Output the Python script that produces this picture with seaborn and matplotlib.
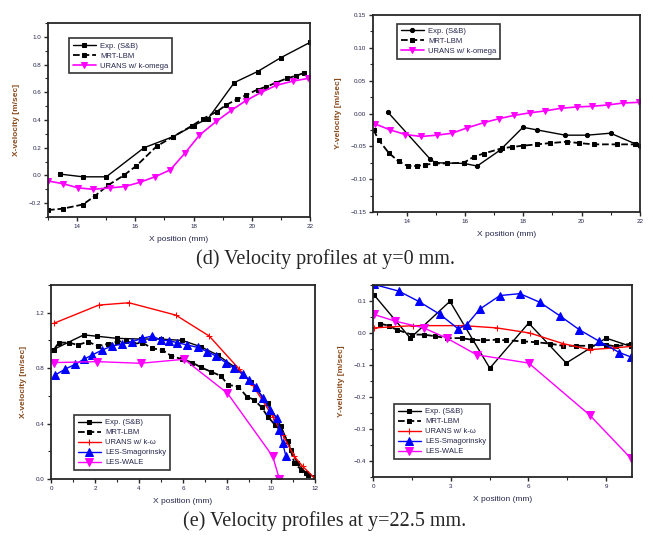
import matplotlib
matplotlib.use("Agg")
import matplotlib.pyplot as plt
import seaborn as sns
from matplotlib.ticker import AutoMinorLocator, MultipleLocator

# ---- (d) y = 0 mm, X-velocity ----
d_u_exp_x = [13.4, 14.2, 15.0, 16.3, 17.3, 18.0, 18.5, 19.4, 20.2, 21.0, 22.0]
d_u_exp_y = [0.01, -0.01, -0.01, 0.20, 0.28, 0.36, 0.41, 0.67, 0.75, 0.85, 0.96]
d_u_lbm_x = [13.0, 13.5, 14.2, 14.6, 15.07, 15.6, 16.04, 16.73, 17.3, 17.96, 18.33, 18.8,
             19.13, 19.5, 19.81, 20.2, 20.5, 20.84, 21.2, 21.53, 21.8]
d_u_lbm_y = [-0.25, -0.24, -0.21, -0.15, -0.07, 0.0, 0.07, 0.21, 0.28, 0.36, 0.41, 0.46,
             0.51, 0.55, 0.58, 0.62, 0.64, 0.67, 0.70, 0.72, 0.74]
d_u_rans_x = [13.0, 13.52, 14.04, 14.55, 15.13, 15.64, 16.15, 16.67, 17.2, 17.7, 18.2,
              18.78, 19.3, 19.8, 20.33, 20.84, 21.4, 21.92]
d_u_rans_y = [-0.04, -0.06, -0.09, -0.10, -0.09, -0.08, -0.05, -0.01, 0.04, 0.16, 0.29,
              0.39, 0.47, 0.54, 0.60, 0.65, 0.68, 0.70]

# ---- (d) y = 0 mm, Y-velocity ----
d_v_exp_x = [13.35, 14.82, 14.99, 15.96, 16.42, 17.2, 17.99, 18.47, 19.44, 20.19, 20.99, 21.88, 22.0]
d_v_exp_y = [0.0025, -0.070, -0.075, -0.076, -0.080, -0.056, -0.021, -0.025, -0.033, -0.033,
             -0.030, -0.047, -0.050]
d_v_lbm_x = [12.87, 13.04, 13.39, 13.73, 14.04, 14.36, 14.64, 14.99, 15.39, 15.96, 16.3, 16.64,
             17.27, 17.61, 17.99, 18.47, 18.93, 19.5, 19.9, 20.42, 21.22, 21.84]
d_v_lbm_y = [-0.025, -0.040, -0.060, -0.073, -0.080, -0.080, -0.078, -0.076, -0.076, -0.075,
             -0.066, -0.061, -0.053, -0.051, -0.049, -0.047, -0.045, -0.043, -0.045, -0.047,
             -0.047, -0.047]
d_v_rans_x = [12.93, 13.44, 13.96, 14.5, 15.04, 15.56, 16.07, 16.64, 17.16, 17.67, 18.22, 18.76,
              19.3, 19.84, 20.36, 20.9, 21.42, 21.96]
d_v_rans_y = [-0.016, -0.025, -0.032, -0.035, -0.033, -0.030, -0.022, -0.014, -0.008, -0.003,
              0.001, 0.004, 0.008, 0.010, 0.011, 0.013, 0.016, 0.017]

# ---- (e) y = 22.5 mm, X-velocity ----
e_u_exp_x = [0.05, 1.49, 2.1, 3.0, 4.07, 4.98, 5.97, 6.8, 7.57, 8.33, 9.09, 9.85, 10.46, 10.9,
             11.2, 11.6, 11.98]
e_u_exp_y = [0.93, 1.04, 1.03, 1.015, 1.01, 1.01, 1.0, 0.955, 0.895, 0.81, 0.70, 0.547, 0.38,
             0.21, 0.115, 0.043, 0.014]
e_u_lbm_x = [0.12, 0.35, 0.81, 1.22, 1.67, 2.13, 2.58, 3.01, 3.43, 3.74, 4.15, 4.6, 5.06, 5.47,
             5.97, 6.43, 6.81, 7.26, 7.72, 8.05, 8.51, 8.9, 9.24, 9.57, 9.85, 10.18, 10.43, 10.79,
             11.06, 11.37, 11.67, 11.98]
e_u_lbm_y = [0.93, 0.984, 0.984, 0.967, 0.991, 0.96, 0.975, 0.99, 0.998, 0.975, 0.984, 0.943,
             0.931, 0.888, 0.864, 0.84, 0.806, 0.775, 0.744, 0.679, 0.667, 0.595, 0.571, 0.518,
             0.451, 0.391, 0.35, 0.271, 0.115, 0.067, 0.031, 0.007]
e_u_rans_x = [0.12, 2.17, 3.54, 5.67, 7.19, 8.56, 9.16, 10.08, 10.53, 11.06, 11.44, 11.98]
e_u_rans_y = [1.123, 1.255, 1.272, 1.183, 1.032, 0.792, 0.679, 0.451, 0.319, 0.163, 0.091, 0.007]
e_u_smag_x = [0.2, 0.65, 1.11, 1.49, 1.87, 2.33, 2.78, 3.24, 3.69, 4.15, 4.6, 4.98, 5.36, 5.74,
              6.2, 6.66, 7.11, 7.49, 7.95, 8.33, 8.71, 9.01, 9.32, 9.62, 9.97, 10.27, 10.38,
              10.53, 10.68]
e_u_smag_y = [0.751, 0.794, 0.828, 0.864, 0.895, 0.931, 0.96, 0.974, 0.991, 1.015, 1.032, 1.003,
              0.998, 0.984, 0.967, 0.95, 0.919, 0.888, 0.84, 0.799, 0.758, 0.715, 0.667, 0.583,
              0.499, 0.439, 0.355, 0.259, 0.163]
e_u_wale_x = [0.12, 2.1, 4.07, 6.05, 8.02, 10.08, 10.38]
e_u_wale_y = [0.84, 0.847, 0.835, 0.864, 0.619, 0.163, 0.0]

# ---- (e) y = 22.5 mm, Y-velocity ----
e_v_exp_x = [0.03, 1.44, 2.97, 4.51, 6.01, 7.46, 9.0, 9.96]
e_v_exp_y = [0.12, -0.016, 0.099, -0.11, 0.031, -0.094, -0.016, -0.042]
e_v_lbm_x = [0.28, 0.6, 0.92, 1.5, 1.95, 2.4, 2.85, 3.42, 3.81, 4.26, 4.77, 5.15, 5.79, 6.31,
             6.82, 7.33, 7.85, 8.36, 9.0, 9.38, 9.96]
e_v_lbm_y = [0.029, 0.023, 0.010, -0.005, -0.005, -0.010, -0.016, -0.016, -0.021, -0.023, -0.021,
             -0.023, -0.026, -0.029, -0.033, -0.040, -0.040, -0.040, -0.037, -0.042, -0.033]
e_v_rans_x = [0.03, 1.56, 3.49, 4.77, 6.05, 7.33, 8.36, 9.26, 9.96]
e_v_rans_y = [0.016, 0.023, 0.023, 0.016, 0.0, -0.033, -0.052, -0.047, -0.042]
e_v_smag_x = [0.03, 0.99, 1.76, 2.59, 3.29, 3.62, 4.13, 4.9, 5.67, 6.44, 7.21, 7.97, 8.74, 9.51, 9.96]
e_v_smag_y = [0.152, 0.131, 0.099, 0.058, 0.013, 0.026, 0.075, 0.117, 0.123, 0.096, 0.054, 0.010,
              -0.026, -0.061, -0.075]
e_v_wale_x = [0.03, 0.86, 1.95, 2.85, 4.0, 6.01, 8.36, 9.96]
e_v_wale_y = [0.058, 0.037, 0.016, -0.016, -0.068, -0.094, -0.256, -0.392]

labels_d = ["Exp. (S&B)", "MRT-LBM", "URANS w/ k-omega"]
labels_e = ["Exp. (S&B)", "MRT-LBM", "URANS w/ k-\u03c9", "LES-Smagorinsky", "LES-WALE"]

sns.set_style("ticks")
plt.rcParams["font.family"] = ["Liberation Sans", "DejaVu Sans"]
plt.rcParams["axes.linewidth"] = 1.3

W, H = 653, 536
fig = plt.figure(figsize=(W / 100, H / 100), dpi=100)


def ax_at(l, r, t, b):
    return fig.add_axes([l / W, 1 - b / H, (r - l) / W, (b - t) / H])


TXT = "#26264d"
LBL = "#8a4a1c"


def style(ax, xlab, ylab, xlim, ylim, xstep, ystep, yfmt):
    ax.set_xlim(*xlim)
    ax.set_ylim(*ylim)
    ax.xaxis.set_major_locator(MultipleLocator(xstep))
    ax.yaxis.set_major_locator(MultipleLocator(ystep))
    ax.xaxis.set_minor_locator(AutoMinorLocator(2))
    ax.yaxis.set_minor_locator(AutoMinorLocator(2))
    ax.yaxis.set_major_formatter(yfmt)
    ax.tick_params(which="major", direction="out", length=3, width=1.0, labelsize=4.5,
                   labelcolor=TXT, pad=2)
    ax.tick_params(which="minor", direction="out", length=2, width=0.8)
    ax.set_xlabel(xlab, fontsize=6, color=TXT, labelpad=5)
    ax.set_ylabel(ylab, fontsize=6, color=LBL, fontweight="bold", labelpad=6)
    for s in ax.spines.values():
        s.set_visible(True)
        s.set_linewidth(1.3)


def leg(ax, **kw):
    lg = ax.legend(frameon=True, fancybox=False, edgecolor="black", fontsize=5.5,
                   handlelength=3.0, borderpad=0.5, labelspacing=0.35, handletextpad=0.6, **kw)
    lg.get_frame().set_linewidth(1.2)
    for t in lg.get_texts():
        t.set_color(TXT)


def line(ax, x, y, color, marker, ms, ls, label, lw=1.0):
    sns.lineplot(x=x, y=y, ax=ax, color=color, marker=marker, markersize=ms, linestyle=ls,
                 linewidth=lw, markeredgecolor=color, label=label, sort=False)


# (d) left
ax1 = ax_at(48, 310, 23, 217)
line(ax1, d_u_exp_x, d_u_exp_y, "black", "s", 2.5, "-", labels_d[0])
line(ax1, d_u_lbm_x, d_u_lbm_y, "black", "s", 3, "--", labels_d[1], lw=1.3)
line(ax1, d_u_rans_x, d_u_rans_y, "#ff00ff", "v", 5, "-", labels_d[2], lw=1.2)
style(ax1, "X position (mm)", "X-velocity [m/sec]", (13, 22), (-0.3, 1.1), 2, 0.2, "{x:.1f}")
leg(ax1, loc="upper left", bbox_to_anchor=(0.065, 0.94))

# (d) right
ax2 = ax_at(373, 640, 15, 212)
line(ax2, d_v_exp_x, d_v_exp_y, "black", "o", 3, "-", labels_d[0])
line(ax2, d_v_lbm_x, d_v_lbm_y, "black", "s", 3, "--", labels_d[1], lw=1.3)
line(ax2, d_v_rans_x, d_v_rans_y, "#ff00ff", "v", 5, "-", labels_d[2], lw=1.2)
style(ax2, "X position (mm)", "Y-velocity [m/sec]", (12.85, 22), (-0.15, 0.15), 2, 0.05, "{x:.2f}")
leg(ax2, loc="upper left", bbox_to_anchor=(0.075, 0.975))

# (e) left
ax3 = ax_at(51, 315, 285, 479)
line(ax3, e_u_exp_x, e_u_exp_y, "black", "s", 2.5, "-", labels_e[0])
line(ax3, e_u_lbm_x, e_u_lbm_y, "black", "s", 3.5, "--", labels_e[1], lw=1.3)
line(ax3, e_u_rans_x, e_u_rans_y, "red", "+", 4, "-", labels_e[2])
line(ax3, e_u_smag_x, e_u_smag_y, "blue", "^", 5.5, "-", labels_e[3])
line(ax3, e_u_wale_x, e_u_wale_y, "#ff00ff", "v", 5.5, "-", labels_e[4])
style(ax3, "X position (mm)", "X-velocity [m/sec]", (0, 12), (0, 1.4), 2, 0.4, "{x:.1f}")
leg(ax3, loc="lower left", bbox_to_anchor=(0.072, 0.026))

# (e) right
ax4 = ax_at(373, 632, 285, 477)
line(ax4, e_v_exp_x, e_v_exp_y, "black", "s", 2.5, "-", labels_e[0])
line(ax4, e_v_lbm_x, e_v_lbm_y, "black", "s", 3.5, "--", labels_e[1], lw=1.3)
line(ax4, e_v_rans_x, e_v_rans_y, "red", "+", 4, "-", labels_e[2])
line(ax4, e_v_smag_x, e_v_smag_y, "blue", "^", 5.5, "-", labels_e[3])
line(ax4, e_v_wale_x, e_v_wale_y, "#ff00ff", "v", 5.5, "-", labels_e[4])
style(ax4, "X position (mm)", "Y-velocity [m/sec]", (0, 10), (-0.45, 0.15), 3, 0.1, "{x:.1f}")
leg(ax4, loc="lower left", bbox_to_anchor=(0.066, 0.073))

fig.text(325 / W, 1 - 259 / H, "(d) Velocity profiles at y=0 mm.", ha="center", va="center",
         fontsize=14.5, family="Liberation Serif")
fig.text(325 / W, 1 - 521 / H, "(e) Velocity profiles at y=22.5 mm.", ha="center", va="center",
         fontsize=14.5, family="Liberation Serif")

fig.savefig("out.png", dpi=100)
